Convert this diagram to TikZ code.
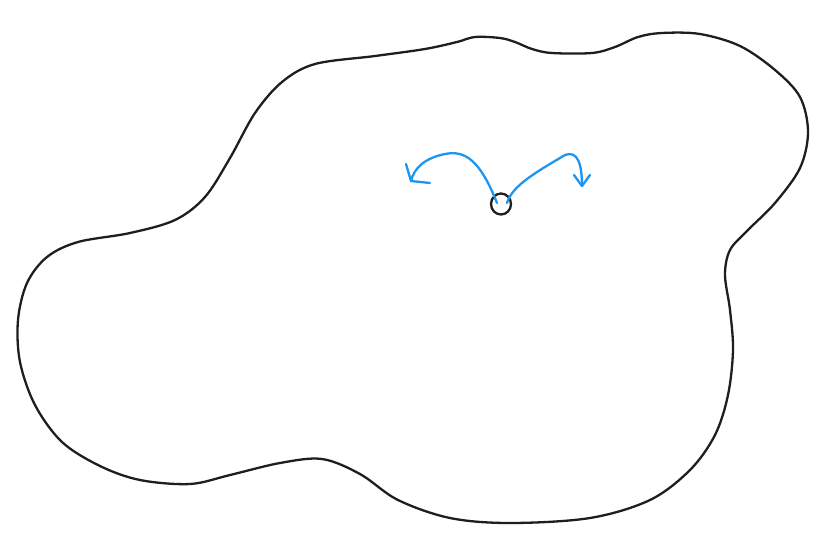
\documentclass[tikz,border=0pt]{standalone}
\usetikzlibrary{arrows.meta}
\definecolor{ink}{HTML}{1E1E1E}
\definecolor{sky}{HTML}{1C96F0}
\tikzset{
  blob/.style={draw=ink, line width=2.3pt, line join=round},
  bluestroke/.style={draw=sky, line width=2.3pt, line cap=round, line join=round},
}
\begin{document}
\begin{tikzpicture}[x=1pt,y=-1pt]
\useasboundingbox (0,0) rectangle (837,541);
\draw[blob] plot[smooth cycle, tension=0.55] coordinates {
(457,42) (475,37) (500,38) (515,42) (532,49) (552,53) (592,53) (615,47) (638,37) (662,33)
(700,34) (740,46) (775,70) (800,97) (808,132) (800,168) (775,203) (748,230) (730,250)
(725,275) (730,310) (733,350) (728,395) (715,435) (690,470) (650,500) (590,518) (510,523)
(450,518) (398,500) (360,474) (322,459) (280,463) (230,475) (190,484) (140,480) (100,466)
(62,442) (35,405) (20,362) (18,320) (27,283) (47,257) (78,242) (130,233) (175,220)
(205,197) (230,158) (255,113) (282,82) (315,64) (375,56) (425,49)};
\draw[blob] (501,204) ellipse (10 and 10.5);
\coordinate (ls) at (497,203);
\coordinate (ltip) at (411,181);
\coordinate (rs) at (507,203);
\coordinate (rtip) at (582,186);
\draw[bluestroke] (ls) .. controls (480,160) and (465,150) .. (445,154) .. controls (425,158) and (414,168) .. (ltip);
\draw[bluestroke] (406,164) -- (ltip) -- (430,183);
\draw[bluestroke] (rs) .. controls (512,185) and (540,170) .. (565,155) .. controls (578,150) and (582,165) .. (rtip);
\draw[bluestroke] (574,175) -- (rtip) -- (590,175);
\end{tikzpicture}
\end{document}
